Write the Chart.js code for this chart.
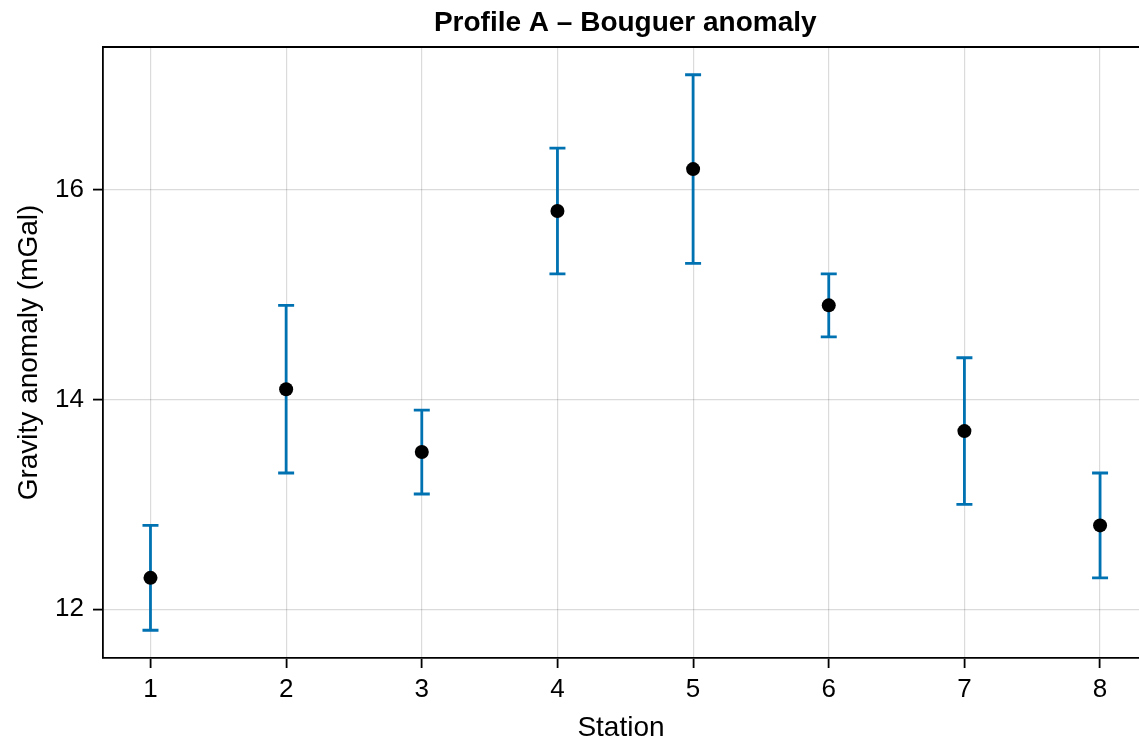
<!DOCTYPE html>
<html>
<head>
<meta charset="utf-8">
<title>Profile A – Bouguer anomaly</title>
<script src="https://cdn.jsdelivr.net/npm/chart.js@4.4.1/dist/chart.umd.min.js"></script>
<style>
  html, body { margin: 0; padding: 0; background: #fff; overflow: hidden; }
  #wrap { position: relative; width: 1139px; height: 744px; }
</style>
</head>
<body>
<div id="wrap"><canvas id="profileChart"></canvas></div>
<script>
// stations along the profile
const stations = [1, 2, 3, 4, 5, 6, 7, 8];
// Bouguer anomaly per station (mGal)
const anomaly = [12.3, 14.1, 13.5, 15.8, 16.2, 14.9, 13.7, 12.8];
// +/- uncertainty per station (mGal)
const uncertainty = [0.5, 0.8, 0.4, 0.6, 0.9, 0.3, 0.7, 0.5];
// y tick values
const yTicks = [12, 14, 16];

const TITLE = 'Profile A – Bouguer anomaly';
const FONT = "'Liberation Sans', Arial, sans-serif";
const BAR_COLOR = '#0072b2';
const GRID_COLOR = 'rgba(0,0,0,0.14)';

// axis limits: data extent plus 5% on each side
const lows = anomaly.map((v, i) => v - uncertainty[i]);
const highs = anomaly.map((v, i) => v + uncertainty[i]);
const yLo = Math.min(...lows), yHi = Math.max(...highs);
const yPad = (yHi - yLo) * 0.05;
const xLo = Math.min(...stations), xHi = Math.max(...stations);
const xPad = (xHi - xLo) * 0.05;
// the plot is cut off at the right edge of the page, short of the full padding
const xMaxShown = 8.287;

// error bars with whiskers, drawn under the points
const errorBars = {
    id: 'errorBars',
    beforeDatasetsDraw(chart) {
        const { ctx, scales: { x, y } } = chart;
        ctx.save();
        ctx.strokeStyle = BAR_COLOR;
        ctx.lineWidth = 2.8;
        ctx.lineCap = 'butt';
        stations.forEach((s, i) => {
            const px = x.getPixelForValue(s);
            const top = y.getPixelForValue(highs[i]);
            const bot = y.getPixelForValue(lows[i]);
            ctx.beginPath();
            ctx.moveTo(px, top); ctx.lineTo(px, bot);
            ctx.moveTo(px - 8, top); ctx.lineTo(px + 8, top);
            ctx.moveTo(px - 8, bot); ctx.lineTo(px + 8, bot);
            ctx.stroke();
        });
        ctx.restore();
    }
};

// top spine and the title, centred over the full plot width
const frame = {
    id: 'frame',
    afterDraw(chart) {
        const { ctx, chartArea: a, scales: { x } } = chart;
        ctx.save();
        ctx.strokeStyle = '#000';
        ctx.lineWidth = 1.8;
        ctx.beginPath();
        ctx.moveTo(a.left - 0.9, a.top);
        ctx.lineTo(a.right, a.top);
        ctx.stroke();

        ctx.fillStyle = '#000';
        ctx.font = 'bold 28px ' + FONT;
        ctx.textAlign = 'center';
        ctx.textBaseline = 'middle';
        const mid = (x.getPixelForValue(xLo - xPad) + x.getPixelForValue(xHi + xPad)) / 2;
        ctx.fillText(TITLE, mid, 23);
        ctx.restore();
    }
};

new Chart(document.getElementById('profileChart'), {
    type: 'scatter',
    data: {
        datasets: [{
            data: stations.map((s, i) => ({ x: s, y: anomaly[i] })),
            backgroundColor: '#000',
            borderColor: '#000',
            pointRadius: 7,
            pointHoverRadius: 7,
            borderWidth: 0
        }]
    },
    options: {
        responsive: true,
        maintainAspectRatio: false,
        animation: false,
        layout: { autoPadding: false, padding: { top: 47, left: 0, right: 0, bottom: 0 } },
        plugins: {
            legend: { display: false },
            tooltip: { enabled: false },
            title: { display: false }
        },
        scales: {
            x: {
                type: 'linear',
                min: xLo - xPad,
                max: xMaxShown,
                afterBuildTicks: scale => { scale.ticks = stations.map(v => ({ value: v })); },
                afterFit: scale => { scale.height = 86; },
                grid: { color: GRID_COLOR, lineWidth: 1.2, tickLength: 10, tickColor: '#000', tickWidth: 1.8 },
                border: { color: '#000', width: 1.8 },
                ticks: {
                    color: '#000',
                    padding: 9,
                    maxRotation: 0,
                    font: { family: FONT, size: 26, lineHeight: 1 }
                },
                title: {
                    display: true,
                    text: 'Station',
                    color: '#000',
                    font: { family: FONT, size: 28, lineHeight: 1 },
                    padding: { top: 0, bottom: 2 }
                }
            },
            y: {
                type: 'linear',
                min: yLo - yPad,
                max: yHi + yPad,
                afterBuildTicks: scale => { scale.ticks = yTicks.map(v => ({ value: v })); },
                afterFit: scale => { scale.width = 103; },
                grid: { color: GRID_COLOR, lineWidth: 1.2, tickLength: 10, tickColor: '#000', tickWidth: 1.8 },
                border: { color: '#000', width: 1.8 },
                ticks: {
                    color: '#000',
                    padding: 9,
                    font: { family: FONT, size: 26, lineHeight: 1 }
                },
                title: {
                    display: true,
                    text: 'Gravity anomaly (mGal)',
                    color: '#000',
                    font: { family: FONT, size: 28, lineHeight: 1.2 },
                    padding: { top: 12, bottom: 0 }
                }
            }
        }
    },
    plugins: [errorBars, frame]
});
</script>
</body>
</html>
